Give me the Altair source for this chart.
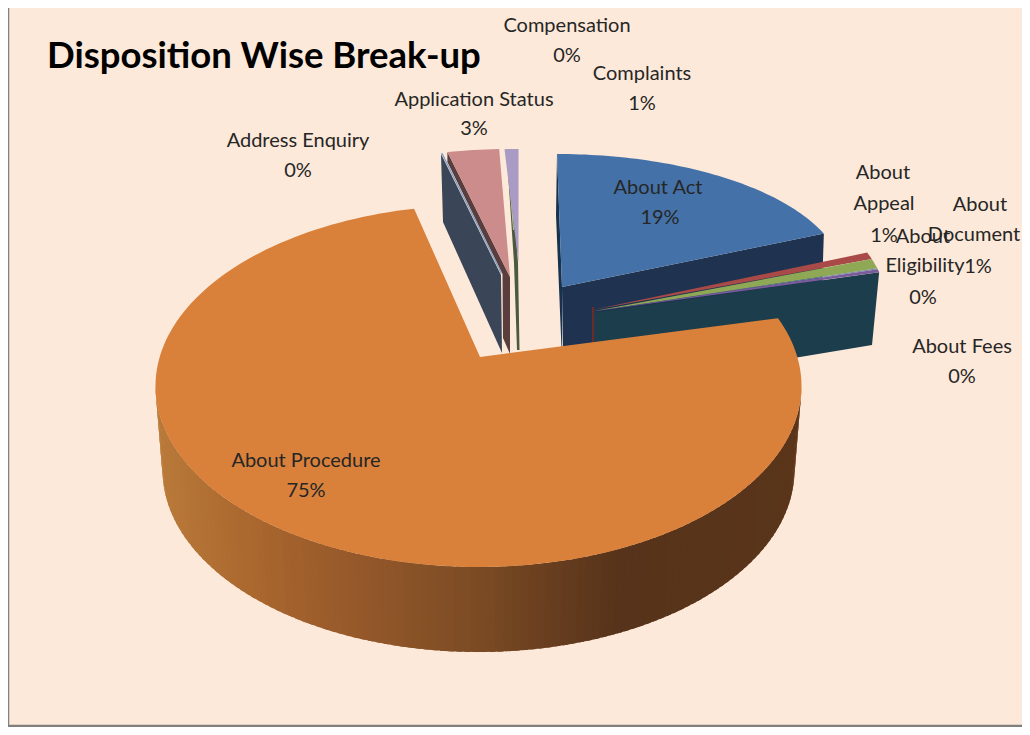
import math
import altair as alt

# ---------- data ----------
categories = ["About Act", "About Appeal", "About Document", "About Eligibility", "About Fees",
              "About Procedure", "Address Enquiry", "Application Status", "Compensation", "Complaints"]
shares = [19.0, 0.7, 1.0, 0.1, 0.3, 75.3, 0.1, 2.9, 0.1, 0.5]
percent_labels = ["19%", "1%", "1%", "0%", "0%", "75%", "0%", "3%", "0%", "1%"]
title_text = "Disposition Wise Break-up"

W, H = 1014, 719
OX, OY = 8, 8
BG = "#fde9d9"

# cumulative angles (degrees clockwise from 12 o'clock)
angles = {}
run = 0.0
for c, s in zip(categories, shares):
    angles[c] = (run * 3.6, (run + s) * 3.6)
    run += s


def poly(points, fill, sw=0.0, name=""):
    ring = [[round(x - OX, 2), round(y - OY, 2)] for x, y in points]
    ring.append(ring[0])
    return {"type": "Feature",
            "properties": {"fill": fill, "sw": sw, "name": name},
            "geometry": {"type": "Polygon", "coordinates": [ring]}}


def ell(c, rx, ry, t):
    r = math.radians(t)
    return (c[0] + rx * math.sin(r), c[1] - ry * math.cos(r))


def arc(c, rx, ry, t0, t1, n=60):
    return [ell(c, rx, ry, t0 + (t1 - t0) * i / n) for i in range(n + 1)]


def mix(a, b, f):
    ca = [int(a[i:i + 2], 16) for i in (1, 3, 5)]
    cb = [int(b[i:i + 2], 16) for i in (1, 3, 5)]
    return "#%02x%02x%02x" % tuple(round(p + (q - p) * f) for p, q in zip(ca, cb))


features = []

# --- left group: Address Enquiry, Application Status, Compensation, Complaints
features.append(poly([(441, 154), (443, 222), (502, 353), (501, 275)], "#3a4658", name="Address Enquiry"))
a0, a1 = angles["Application Status"]
cp = (510, 277)
tp0, tp1 = a0 - 360, a1 - 360
tips = arc(cp, 287, 128, tp0, tp1, 8)
features.append(poly([tips[0], (tips[0][0], tips[0][1] + 10), (502.5, 274), (503, 338), (510, 354), cp],
                     "#5a3e3e", name="Application Status"))
features.append(poly([cp] + tips, "#cc8c8c", name="Application Status"))
features.append(poly([(441, 153), (442.5, 153), (502, 273), (501, 274)], "#7f9fc8", name="Address Enquiry"))
features.append(poly([(506.5, 150), (510, 150), (518, 263), (519.5, 350), (517, 350), (514, 263)],
                     "#4a5a3e", name="Compensation"))
features.append(poly([(506.5, 149), (508.5, 149), (514, 230), (513, 230)], "#b9c78f", name="Compensation"))
a0, a1 = angles["Complaints"]
cc = (518.5, 263)
features.append(poly([cc] + arc(cc, 287, 114, a0 - 360 - 1, a1 - 360, 6), "#a99bc4", name="Complaints"))

# --- About Act
a0, a1 = angles["About Act"]
ca = (557, 280)
act = arc(ca, 287, 126, a0, a1)
apex = (562, 287)
tip = act[-1]
features.append(poly([act[0], (556, 215), (562, 360), apex], "#16324f", name="About Act"))
features.append(poly([apex, tip, (tip[0] - 2, tip[1] + 62), (563, 360)], "#1f3350", name="About Act"))
features.append(poly([apex] + act, "#4472a8", name="About Act"))

# --- About Appeal / Document / Eligibility / Fees
cg = (592, 310)
rxg, ryg = 296, 156
fa0, fa1 = angles["About Fees"]
fee_tip = ell(cg, rxg, ryg, fa1)
features.append(poly([(592, 313), fee_tip, (872, 345), (800, 357), (592, 390)], "#1c3d4b", name="About Fees"))
features.append(poly([(592, 307), (594, 307), (594, 390), (592, 390)], "#6b2b2a", name="About Appeal"))
for name, col in [("About Appeal", "#a94a48"), ("About Document", "#8fa856"),
                  ("About Eligibility", "#6f8fa0"), ("About Fees", "#7a5c9c")]:
    a0, a1 = angles[name]
    c2 = (cg[0], cg[1] + (1.5 if name != "About Appeal" else 0))
    features.append(poly([c2] + arc(cg, rxg, ryg, a0, a1, 6), col, name=name))

# --- About Procedure: wall then top
a0, a1 = angles["About Procedure"]
stretch = 280.5 / (a1 - a0)
t0, t1 = 68.0, 68.0 + (a1 - a0) * stretch
ctop = (478.5, 386)
cbot = (478.5, 470)
RXT, RYT = 323, 181
RXB, RYB = 316, 182
wall_stops = [(155, "#b97a3a"), (250, "#aa672e"), (350, "#96592a"), (480, "#7a4a24"),
              (560, "#653c1e"), (620, "#56331a"), (801, "#5a351a")]
N = 120
for i in range(N):
    ts = 90 + 180 * i / N
    te = 90 + 180 * (i + 1) / N + (1.0 if i < N - 1 else 0.0)
    xm = ell(ctop, RXT, RYT, (ts + te) / 2)[0]
    colour = wall_stops[0][1]
    for (p0, c0), (p1, c1) in zip(wall_stops, wall_stops[1:]):
        if p0 <= xm <= p1:
            colour = mix(c0, c1, (xm - p0) / (p1 - p0))
            break
    p = ell(ctop, RXT, RYT, ts), ell(ctop, RXT, RYT, te), ell(cbot, RXB, RYB, te), ell(cbot, RXB, RYB, ts)
    features.append(poly(list(p), colour, name="About Procedure"))
top = arc(ctop, RXT, RYT, t0, t1, 180)
features.append(poly([(480, 357)] + top, "#d9813b", name="About Procedure"))

# --- labels
label_lines = [
    ("Compensation", 567, 32), ("0%", 567, 62),
    ("Complaints", 642, 80), ("1%", 642, 110),
    ("Application Status", 474, 106), ("3%", 474, 135),
    ("Address Enquiry", 298, 147), ("0%", 298, 177),
    ("About Act", 658, 194), ("19%", 660, 224),
    ("About", 883, 179), ("Appeal", 884, 210), ("1%", 884, 242),
    ("About", 980, 211), ("Document", 974, 241), ("1%", 978, 273),
    ("About", 923, 243), ("Eligibility", 925, 272), ("0%", 923, 304),
    ("About Fees", 962, 353), ("0%", 962, 383),
    ("About Procedure", 306, 467), ("75%", 306, 497),
]
text_rows = [{"t": t, "x": x - OX, "y": y - OY} for t, x, y in label_lines]

shapes = alt.Chart(alt.Data(values=features)).mark_geoshape().encode(
    fill=alt.Fill("properties.fill:N", scale=None),
    stroke=alt.Stroke("properties.fill:N", scale=None),
    strokeWidth=alt.StrokeWidth("properties.sw:Q", scale=None),
).project(type="identity", scale=1, translate=[0, 0])

labels = alt.Chart(alt.Data(values=text_rows)).mark_text(
    font="Lato", fontSize=20, color="#262626", align="center", baseline="alphabetic"
).encode(
    x=alt.X("x:Q", scale=None, axis=None),
    y=alt.Y("y:Q", scale=None, axis=None),
    text="t:N",
)

title_mark = alt.Chart(alt.Data(values=[{"t": title_text, "x": 47 - OX, "y": 68 - OY}])).mark_text(
    font="Lato", fontSize=36.5, fontWeight="bold", color="#000000", align="left", baseline="alphabetic"
).encode(
    x=alt.X("x:Q", scale=None, axis=None),
    y=alt.Y("y:Q", scale=None, axis=None),
    text="t:N",
)

border_rows = [{"x": 0, "x2": 0, "y": 0, "y2": H}, {"x": 0, "x2": W, "y": H - 1, "y2": H - 1}]
border = alt.Chart(alt.Data(values=border_rows)).mark_rule(color="#808080", strokeWidth=2.5).encode(
    x=alt.X("x:Q", scale=None, axis=None), x2="x2:Q",
    y=alt.Y("y:Q", scale=None, axis=None), y2="y2:Q",
)

chart = alt.layer(shapes, labels, title_mark, border).properties(
    width=W, height=H, background=BG, padding=0,
    autosize=alt.AutoSizeParams(type="none"),
).configure_view(stroke=None)

chart.save("out.html", embed_options={"renderer": "svg", "actions": False})
